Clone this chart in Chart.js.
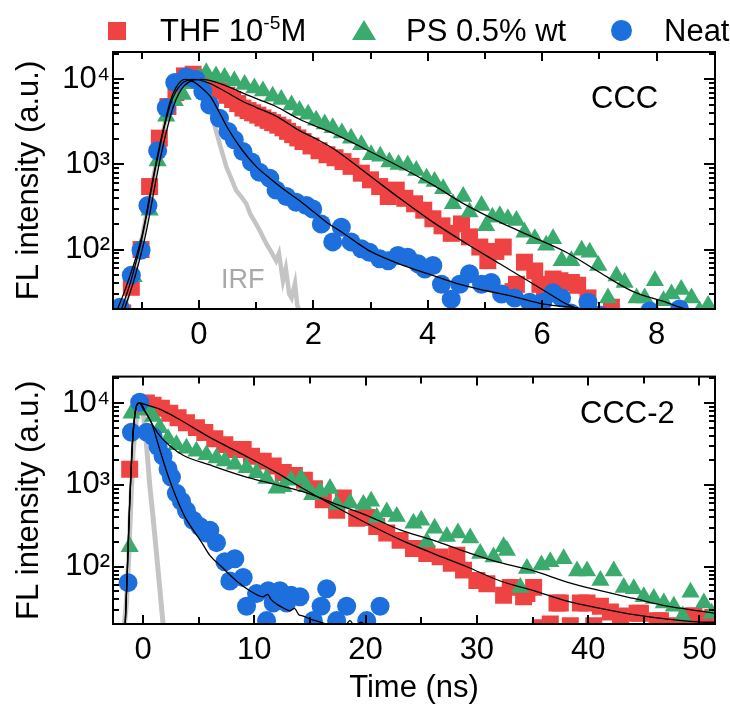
<!DOCTYPE html>
<html>
<head>
<meta charset="utf-8">
<script src="https://cdn.jsdelivr.net/npm/chart.js@4.4.1/dist/chart.umd.min.js"></script>
<style>
  body { margin: 0; background: #fff; font-family: 'Liberation Sans', Arial, sans-serif; }
  #wrap { position: relative; width: 730px; height: 707px; overflow: hidden; }
  canvas { position: absolute; left: 0; }
  .txt { position: absolute; font-size: 31px; line-height: 31px; color: #000; white-space: nowrap; }
  .txt sup { font-size: 0.62em; vertical-align: baseline; position: relative; top: -0.62em; }
  .mk { position: absolute; }
</style>
</head>
<body>
<div id="wrap">
  <canvas id="top" width="730" height="355" style="top:0"></canvas>
  <canvas id="bottom" width="730" height="352" style="top:355px"></canvas>

  <!-- legend -->
  <div class="mk" style="left:108px;top:22px;width:18px;height:18px;background:#ef4343"></div>
  <div class="txt" style="left:160px;top:15px">THF 10<sup>-5</sup>M</div>
  <div class="mk" style="left:352px;top:20px;width:0;height:0;border-left:12px solid transparent;border-right:12px solid transparent;border-bottom:20px solid #3aaa6d"></div>
  <div class="txt" style="left:406px;top:15px">PS 0.5% wt</div>
  <div class="mk" style="left:611px;top:20px;width:21px;height:21px;border-radius:50%;background:#1d6fdd"></div>
  <div class="txt" style="left:664px;top:15px">Neat</div>

  <div class="txt" style="left:591px;top:82px">CCC</div>
  <div class="txt" style="left:580px;top:397px">CCC-2</div>
  <div class="txt" style="left:221px;top:264px;font-size:27px;color:#a8a8a8">IRF</div>
</div>
<script>
Chart.defaults.font.family = "'Liberation Sans', Arial, sans-serif";
Chart.defaults.font.size = 31;
Chart.defaults.color = '#000';

const red = '#ef4343';
const green = '#3aaa6d';
const blue = '#1d6fdd';
const irfGray = '#c4c4c4';

// y axis (log) labels
const yMajor = [100, 1000, 10000];
const yLabels = ['10²', '10³', '10⁴'];

// ---- CCC (top panel), time in ns ----
const cccXMajor = [0, 2, 4, 6, 8];
const cccXMinor = [-1, 1, 3, 5, 7, 9];

const cccThfT = [-1.33,-1.18,-1.01,-0.86,-0.69,-0.54,-0.40,-0.25,-0.10,0.05,0.19,0.29,0.39,0.49,0.59,0.68,0.77,0.86,0.94,1.03,1.12,1.21,1.29,1.38,1.47,1.55,1.64,1.73,1.82,1.96,2.10,2.24,2.38,2.52,2.66,2.84,3.00,3.16,3.31,3.45,3.60,3.77,3.93,4.09,4.25,4.41,4.59,4.73,4.91,5.05,5.19,5.32,5.49,5.55,5.69,5.87,5.96,6.04,6.19,6.31,6.51,6.62,6.80,7.00,7.21];
const cccThfI = [18,36,100,550,2040,4800,7000,11000,11500,10500,8300,7800,7300,6500,5800,5200,4600,4300,4050,3800,3520,3300,3100,2900,2700,2450,2240,2050,1860,1650,1450,1300,1200,1080,950,790,660,550,420,500,400,345,290,230,190,155,200,141,107,74,95,107,32,39,71,56,39,32,45,43,41,38,27,17,21];

const cccPsT = [-1.27,-1.14,-1.01,-0.86,-0.72,-0.57,-0.42,-0.28,-0.14,0.00,0.13,0.30,0.45,0.62,0.80,0.97,1.12,1.29,1.44,1.62,1.76,1.91,2.05,2.20,2.34,2.50,2.66,2.84,3.01,3.17,3.33,3.49,3.65,3.80,3.98,4.12,4.27,4.44,4.62,4.73,4.94,5.02,5.13,5.26,5.40,5.55,5.69,5.87,6.07,6.19,6.34,6.51,6.69,6.83,6.98,7.15,7.30,7.44,7.65,7.79,7.97,8.12,8.26,8.43,8.61,8.75,8.90];
const cccPsI = [19,48,105,290,1100,3700,5600,6650,8900,10500,12000,11000,10500,9550,8700,7950,7300,6350,5800,5000,4300,3900,3300,3000,2700,2350,2040,1700,1300,1250,1070,1000,980,850,690,630,520,345,420,276,330,190,240,250,230,220,160,134,112,134,74,74,98,93,65,27,49,41,27,27,43,25,30,34,27,19,22];

const cccNeatT = [-1.38,-1.18,-1.01,-0.89,-0.72,-0.57,-0.42,-0.22,-0.05,0.07,0.19,0.36,0.51,0.62,0.77,0.92,1.06,1.24,1.35,1.53,1.70,1.88,1.99,2.14,2.34,2.49,2.66,2.84,2.98,3.16,3.31,3.48,3.65,3.83,3.95,4.09,4.24,4.41,4.56,4.73,4.94,5.11,5.29,5.52,5.78,6.01,6.19,6.34,6.50,6.80,7.00,7.30,7.88,8.40];
const cccNeatI = [21,50,98,330,1450,4650,9200,10700,10000,7200,5000,3500,2440,1950,1420,1070,810,690,500,420,360,330,300,200,123,183,123,102,93,78,74,85,81,68,59,65,39,26,39,52,39,41,30,27,24,24,31,27,18,24,17,15,19,20];

const cccIrfT = [-1.30,-1.15,-1.00,-0.85,-0.70,-0.55,-0.40,-0.25,-0.10,0.05,0.19,0.28,0.36,0.42,0.48,0.56,0.65,0.74,0.83,0.90,1.00,1.08,1.18,1.26,1.35,1.40,1.47,1.52,1.58,1.62,1.68,1.72,1.78];
const cccIrfI = [20,50,130,450,1500,4000,7500,9500,9000,7000,4800,2800,1780,1300,940,700,500,420,345,260,200,160,117,95,74,90,43,60,30,27,40,22,18];

const cccNeatFitT = [-1.42,-1.30,-1.20,-1.10,-1.00,-0.90,-0.80,-0.70,-0.60,-0.50,-0.40,-0.30,-0.22,-0.10,0.00,0.10,0.20,0.35,0.50,0.75,1.00,1.25,1.50,1.75,2.00,2.25,2.50,2.75,3.00,3.50,4.00,4.50,5.00,5.50,6.00,6.50,6.85,7.20];
const cccNeatFitI = [20,32,50,80,140,300,700,1500,3000,5500,8000,9700,10000,9400,8500,7400,6300,4200,2700,1500,950,680,500,380,280,205,160,122,95,68,52,40,33,28,23,21,19.5,18];

const cccThfFitT = [-1.35,-1.20,-1.10,-1.00,-0.90,-0.80,-0.70,-0.60,-0.50,-0.40,-0.30,-0.20,-0.10,0.00,0.20,0.40,0.77,1.00,1.35,1.76,2.05,2.34,2.93,3.51,4.09,4.68,5.26,5.70,6.13,6.42,6.70];
const cccThfFitI = [20,40,70,130,280,650,1400,2800,5000,7200,8900,9700,10000,9900,8900,7600,5500,4700,3700,2500,2000,1550,790,400,210,117,68,45,30,23,19];

const cccPsFitT = [-1.30,-1.15,-1.05,-0.95,-0.85,-0.75,-0.65,-0.55,-0.45,-0.35,-0.25,-0.15,-0.05,0.05,0.25,0.50,0.77,1.05,1.35,1.76,2.05,2.34,2.93,3.51,4.09,4.68,5.26,5.84,6.42,7.00,7.59,8.17,8.40,8.70];
const cccPsFitI = [20,40,70,130,280,650,1400,2700,4700,6800,8500,9500,9950,10000,9500,8300,6900,5800,4800,3400,2800,2340,1490,940,575,330,210,140,93,54,32,24,21,18];

// ---- CCC-2 (bottom panel), time in ns ----
const ccc2XMajor = [0, 10, 20, 30, 40, 50];
const ccc2XMinor = [5, 15, 25, 35, 45];

const ccc2ThfT = [-1.20,-0.30,0.30,0.90,1.65,2.40,3.15,3.90,4.80,5.55,6.45,7.35,8.25,9.00,9.75,10.8,11.7,12.6,13.6,14.5,15.4,16.2,17.4,18.0,19.2,20.1,21.0,21.9,23.1,24.3,25.5,26.7,27.7,28.2,28.8,30.0,30.9,32.4,33.0,34.2,34.5,35.1,35.7,36.6,37.2,37.5,38.4,39.3,39.9,40.5,41.1,42.0,42.9,44.4,44.7,46.2,46.5,47.5,48.9,49.5,50.7,51.2];
const ccc2ThfI = [1550,9000,10000,9400,8600,7500,6600,5730,5000,4370,3650,3100,2700,2700,2240,1950,1700,1420,1300,1140,900,660,490,690,390,400,310,258,210,167,145,132,110,138,91,68,62,45,56,43,47,56,18,20,36,36,19,36,36,19,33,28,25,27,27,22,22,19,25,25,23,24];

const ccc2PsT = [-1.20,-1.04,-0.30,0.30,0.90,1.50,2.25,3.00,3.90,4.80,5.70,6.60,7.35,8.25,9.30,10.2,11.1,12.0,12.6,13.3,14.2,14.7,15.2,15.9,16.8,17.4,18.6,19.8,20.5,21.0,21.9,22.8,24.3,25.0,25.5,26.2,27.3,28.3,29.4,30.3,31.5,32.4,32.7,33.9,34.5,35.8,36.6,37.8,39.0,39.9,41.1,42.3,43.2,44.1,45.0,45.9,46.8,47.7,48.5,49.2,50.4,51.1];
const ccc2PsI = [175,7500,9400,8200,6850,5000,3650,3100,2800,2570,2340,2130,1950,1780,1620,1410,1200,910,950,1140,1200,950,760,830,900,575,600,575,630,400,465,410,340,370,200,295,235,258,225,145,132,175,158,56,95,105,115,125,89,89,68,89,56,54,43,41,36,33,25,49,36,27];

const ccc2NeatT = [-1.35,-1.04,-0.30,0.35,0.90,1.35,1.80,2.25,2.55,3.00,3.45,3.90,4.50,5.10,5.70,6.00,6.60,7.35,7.80,8.25,9.00,9.30,10.2,11.1,11.25,11.7,12.3,12.9,13.3,14.1,15.3,16.0,16.5,17.4,18.3,20.1,21.3];
const ccc2NeatI = [64,4400,10200,4400,3900,2930,2250,1560,1240,790,630,485,370,310,258,280,197,115,67,125,74,33,47,22,51,36,51,36,45,43,22,33,54,22,33,22,33];

const ccc2IrfT = [-1.70,-1.50,-1.30,-1.10,-0.90,-0.60,-0.30,0.00,0.30,0.60,0.90,1.20,1.50,1.80,2.00];
const ccc2IrfI = [18,35,120,600,2500,6500,9500,8000,3200,1000,400,150,55,20,12];

const ccc2NeatFitT = [-1.60,-1.40,-1.20,-1.00,-0.80,-0.55,-0.30,0.00,0.76,1.50,2.25,3.00,3.75,4.50,5.25,6.00,7.20,8.40,9.60,10.8,11.2,11.5,12.0,12.5,13.2,13.6,14.0,14.4,15.0,15.5,16.0,16.5,17.0,18.0,18.6,19.0,19.6,20.2];
const ccc2NeatFitI = [20,100,600,2500,6000,9500,10000,8500,5700,2700,1290,690,410,282,200,138,96,67,51,43,46,40,35,32,29,31,26,25,23,22,21,20,19,18,22,19,21,17];

const ccc2ThfFitT = [-1.60,-1.40,-1.20,-1.00,-0.80,-0.55,-0.30,0.50,1.50,3.00,6.00,9.00,12.0,14.1,17.1,20.1,23.1,26.1,29.1,32.1,35.1,38.1,41.1,44.1,47.1,50.7,51.4];
const ccc2ThfFitI = [20,100,600,2500,6000,9500,10000,9300,8400,6600,3800,2340,1410,950,560,340,215,145,100,67,51,38,31,26,23,21,21];

const ccc2PsFitT = [-1.60,-1.40,-1.20,-1.00,-0.80,-0.55,-0.30,0.30,0.90,1.50,2.40,3.60,6.00,9.00,12.0,14.7,17.1,20.1,23.1,26.1,29.1,32.1,35.1,38.1,41.1,44.1,47.1,50.7,51.4];
const ccc2PsFitI = [20,100,600,2500,6000,9500,10000,7500,5300,4000,3000,2300,1750,1280,1000,800,600,425,282,210,151,112,89,65,51,41,33,28,27];

// minor log ticks 20..90, 200..900, ...
const yMinor = [];
for (const d of [10, 100, 1000, 10000]) {
    for (let k = 2; k <= 9; k++) yMinor.push(k * d);
}

const pts = (t, v) => t.map((x, i) => ({x: x, y: v[i]}));

function marks(t, v, color, style, r, order) {
    return {
        data: pts(t, v), showLine: false, order: order,
        pointStyle: style, pointRadius: r,
        pointBackgroundColor: color, pointBorderColor: color, pointBorderWidth: 0
    };
}

function curve(t, v, color, width, order, smooth) {
    return {
        data: pts(t, v), showLine: true, order: order,
        pointRadius: 0, borderColor: color, borderWidth: width,
        tension: smooth ? 0.4 : 0,
        cubicInterpolationMode: smooth ? 'monotone' : 'default'
    };
}

// frame box plus inward ticks on all four sides
const frameTicks = {
    id: 'frameTicks',
    afterDatasetsDraw(chart, args, opts) {
        const {ctx, chartArea: a} = chart;
        const xs = chart.scales.x, ys = chart.scales.y;
        ctx.save();
        ctx.strokeStyle = '#000';
        ctx.lineWidth = 2;
        ctx.beginPath();
        const tickX = (v, len) => {
            const p = Math.round(xs.getPixelForValue(v));
            if (p <= a.left + 1 || p >= a.right - 1) return;
            ctx.moveTo(p, a.bottom); ctx.lineTo(p, a.bottom - len);
            ctx.moveTo(p, a.top); ctx.lineTo(p, a.top + len);
        };
        const tickY = (v, len) => {
            const p = Math.round(ys.getPixelForValue(v));
            if (p <= a.top + 1 || p >= a.bottom - 1) return;
            ctx.moveTo(a.left, p); ctx.lineTo(a.left + len, p);
            ctx.moveTo(a.right, p); ctx.lineTo(a.right - len, p);
        };
        opts.xMajor.forEach(v => tickX(v, 9));
        opts.xMinor.forEach(v => tickX(v, 7));
        yMajor.forEach(v => tickY(v, 11));
        yMinor.forEach(v => tickY(v, 6));
        ctx.stroke();
        ctx.strokeRect(a.left, a.top, a.right - a.left, a.bottom - a.top);
        ctx.restore();
    }
};

function panel(id, o) {
    return new Chart(document.getElementById(id), {
        type: 'scatter',
        data: {datasets: o.datasets},
        options: {
            responsive: false,
            animation: false,
            events: [],
            layout: {padding: {top: o.padTop, right: 15, left: 0, bottom: 0}},
            plugins: {
                legend: {display: false},
                tooltip: {enabled: false},
                frameTicks: {xMajor: o.xMajor, xMinor: o.xMinor}
            },
            scales: {
                x: {
                    type: 'linear', min: o.xMin, max: o.xMax,
                    afterBuildTicks: s => { s.ticks = o.xMajor.map(value => ({value})); },
                    afterFit: s => { s.height = o.xHeight; },
                    grid: {display: false, drawTicks: false},
                    border: {display: false},
                    ticks: {padding: 8, maxRotation: 0, autoSkip: false, color: '#000'},
                    title: {display: !!o.xTitle, text: o.xTitle || '', color: '#000', padding: {top: 0, bottom: 0}}
                },
                y: {
                    type: 'logarithmic', min: 20, max: 21000,
                    afterBuildTicks: s => { s.ticks = yMajor.map(value => ({value})); },
                    afterFit: s => { s.width = 113; },
                    grid: {display: false, drawTicks: false},
                    border: {display: false},
                    ticks: {padding: 3, color: '#000', callback: v => yLabels[yMajor.indexOf(v)]},
                    title: {display: true, text: 'FL intensity (a.u.)', color: '#000', padding: {top: 11, bottom: 0}}
                }
            }
        },
        plugins: [frameTicks]
    });
}

panel('top', {
    xMin: -1.5, xMax: 9.02, xMajor: cccXMajor, xMinor: cccXMinor,
    padTop: 52, xHeight: 46,
    datasets: [
        curve(cccNeatFitT, cccNeatFitI, '#000', 1.3, 0, true),
        curve(cccThfFitT, cccThfFitI, '#000', 1.3, 0, true),
        curve(cccPsFitT, cccPsFitI, '#000', 1.3, 0, true),
        marks(cccNeatT, cccNeatI, blue, 'circle', 9.5, 1),
        marks(cccPsT, cccPsI, green, 'triangle', 10.5, 2),
        marks(cccThfT, cccThfI, red, 'rect', 12, 3),
        curve(cccIrfT, cccIrfI, irfGray, 4.5, 4, false)
    ]
});

panel('bottom', {
    xMin: -2.7, xMax: 51.4, xMajor: ccc2XMajor, xMinor: ccc2XMinor,
    padTop: 12, xHeight: 83, xTitle: 'Time (ns)',
    datasets: [
        curve(ccc2NeatFitT, ccc2NeatFitI, '#000', 1.3, 0, true),
        curve(ccc2ThfFitT, ccc2ThfFitI, '#000', 1.3, 0, true),
        curve(ccc2PsFitT, ccc2PsFitI, '#000', 1.3, 0, true),
        marks(ccc2NeatT, ccc2NeatI, blue, 'circle', 9.5, 1),
        marks(ccc2PsT, ccc2PsI, green, 'triangle', 10.5, 2),
        marks(ccc2ThfT, ccc2ThfI, red, 'rect', 12, 3),
        curve(ccc2IrfT, ccc2IrfI, irfGray, 5, 4, false)
    ]
});
</script>
</body>
</html>
